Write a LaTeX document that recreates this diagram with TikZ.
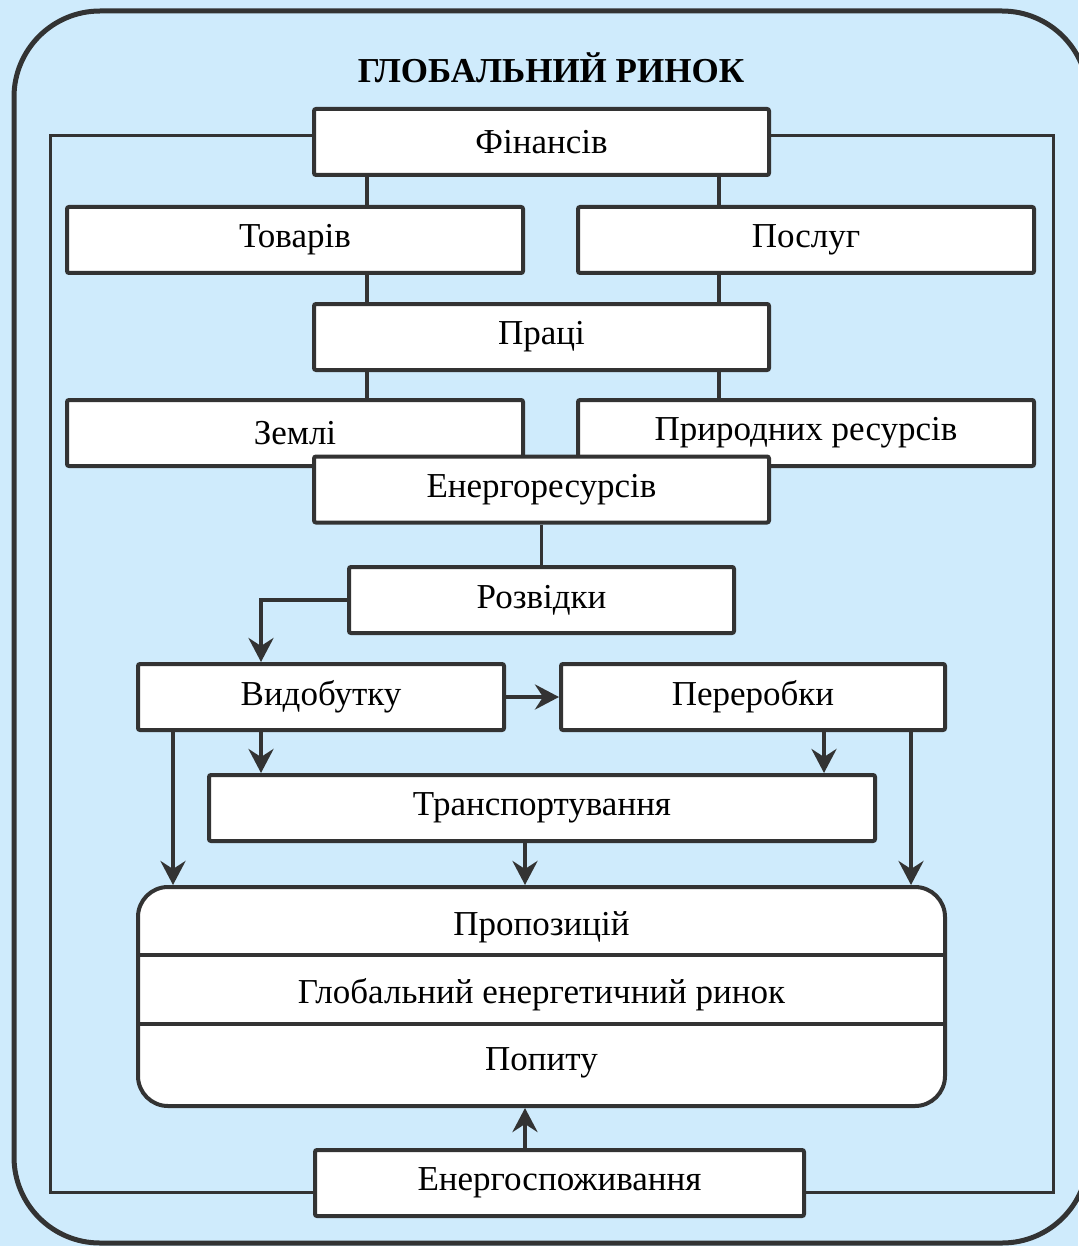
\documentclass[tikz,border=0pt]{standalone}
\usepackage{fontspec}
\setmainfont{Liberation Serif}
\usetikzlibrary{arrows.meta,calc}
\definecolor{bgblue}{RGB}{207,235,252}
\definecolor{ink}{RGB}{51,51,51}

\begin{document}
\begin{tikzpicture}
[
    x=1pt, y=-1pt,
    box/.style={draw=ink, line width=4pt, fill=white, rounded corners=2pt, minimum height=66pt, inner sep=0pt, font=\fontsize{35}{40}\selectfont},
    rowtext/.style={inner sep=0pt, font=\fontsize{35}{40}\selectfont},
    link/.style={draw=ink, line width=3.5pt},
    flow/.style={link, line width=4pt, -{Stealth[length=24pt,width=25pt,inset=8pt]}},
]
    % background and outer frame
    \useasboundingbox (0,0) rectangle (1078,1246);
    \fill[bgblue] (0,0) rectangle (1078,1246);
    \draw[ink, line width=5pt, rounded corners=86pt] (14,11) rectangle (1088,1243);

    \node[font=\bfseries\fontsize{35}{40}\selectfont] (title) at (551,68) {ГЛОБАЛЬНИЙ РИНОК};

    % helper coordinates
    \coordinate (cl) at (367,0);
    \coordinate (cr) at (719,0);
    \coordinate (ftl) at (50,136);
    \coordinate (fbl) at (50,1192);
    \coordinate (ftr) at (1053,136);
    \coordinate (fbr) at (1053,1192);
    \coordinate (vl) at (173,0);
    \coordinate (vm) at (261,0);
    \coordinate (pm) at (824,0);
    \coordinate (pr) at (911,0);
    \coordinate (cm) at (525,0);
    \coordinate (r1) at (0,955);
    \coordinate (r2) at (0,1024);

    % markets
    \node[box, minimum width=455pt] (fin) at (541.5,142) {Фінансів};
    \node[box, minimum width=456pt] (tov) at (295,240) {Товарів};
    \node[box, minimum width=456pt] (posl) at (806,240) {Послуг};
    \node[box, minimum width=455pt] (praci) at (541.5,337) {Праці};

    \draw[link] (fin.south -| cl) -- (tov.north -| cl);
    \draw[link] (fin.south -| cr) -- (posl.north -| cr);
    \draw[link] (tov.south -| cl) -- (praci.north -| cl);
    \draw[link] (posl.south -| cr) -- (praci.north -| cr);

    \node[box, minimum width=456pt] (zemli) at (295,433) {Землі};
    \node[box, minimum width=456pt] (prir) at (806,433) {Природних ресурсів};
    \draw[link] (praci.south -| cl) -- (zemli.north -| cl);
    \draw[link] (praci.south -| cr) -- (prir.north -| cr);

    \node[box, minimum width=455pt] (energo) at (541.5,489.5) {Енергоресурсів};

    % energy chain
    \node[box, minimum width=385pt] (razv) at (541.5,600) {Розвідки};
    \node[box, minimum width=366pt] (vid) at (321,697) {Видобутку};
    \node[box, minimum width=384pt] (per) at (753,697) {Переробки};
    \node[box, minimum width=666pt] (transp) at (542,808) {Транспортування};

    \node[box, minimum width=807pt, minimum height=219pt, rounded corners=30pt] (market) at (541.5,996.5) {};
    \draw[link] (market.west |- r1) -- (market.east |- r1);
    \draw[link] (market.west |- r2) -- (market.east |- r2);
    \node[rowtext] (offer) at (541.5,927) {Пропозицій};
    \node[rowtext] (global) at (541.5,995) {Глобальний енергетичний ринок};
    \node[rowtext] (demand) at (541.5,1063) {Попиту};

    \node[box, minimum width=489pt] (cons) at (559.5,1183) {Енергоспоживання};

    \draw[link] (energo) -- (razv);
    \draw[flow] (razv.west) -| (vid.north -| vm);
    \draw[flow] (vid.east) -- (per.west);
    \draw[flow] (vid.south -| vm) -- (transp.north -| vm);
    \draw[flow] (vid.south -| vl) -- (market.north -| vl);
    \draw[flow] (per.south -| pm) -- (transp.north -| pm);
    \draw[flow] (per.south -| pr) -- (market.north -| pr);
    \draw[flow] (transp.south -| cm) -- (market.north -| cm);
    \draw[flow] (cons.north -| cm) -- (market.south -| cm);

    % inner frame
    \draw[ink, line width=3pt] (fin.west |- ftl) -- (ftl) -- (fbl) -- (cons.west |- fbl);
    \draw[ink, line width=3pt] (fin.east |- ftr) -- (ftr) -- (fbr) -- (cons.east |- fbr);
\end{tikzpicture}
\end{document}
